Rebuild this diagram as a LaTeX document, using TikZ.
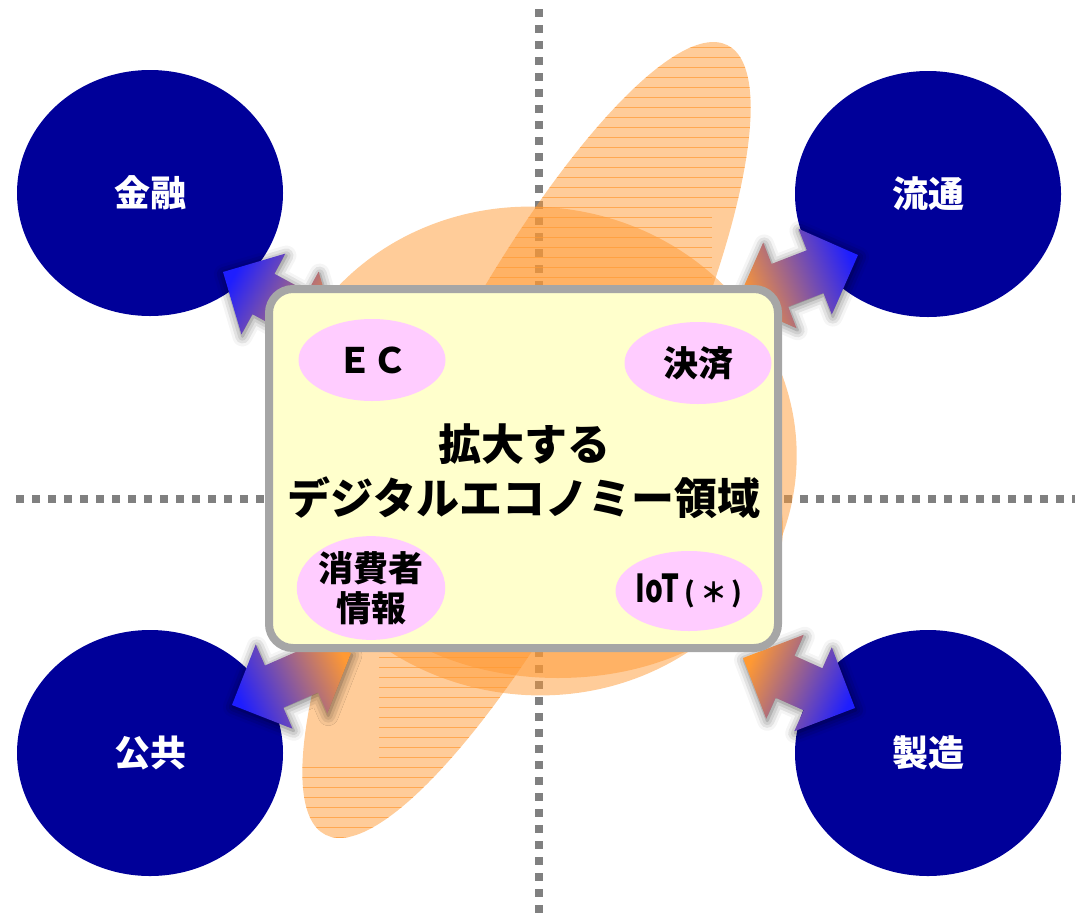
\documentclass[tikz,border=0pt]{standalone}
\usepackage{fontspec}
\usepackage{graphicx}
\setmainfont{Noto Sans CJK JP}
\usetikzlibrary{calc,shapes.geometric,shadows.blur}

\definecolor{navyc}{HTML}{000099}
\definecolor{orng}{HTML}{FF9933}
\definecolor{boxfill}{HTML}{FFFFCC}
\definecolor{boxline}{HTML}{A6A6A6}
\definecolor{pinkc}{HTML}{FFCCFF}
\definecolor{arrblue}{HTML}{1E1EFF}
\definecolor{arrmid}{HTML}{E27C92}
\definecolor{dotgray}{HTML}{808080}

\newcommand{\dblarr}[3]{%
\path[dblarrow, shading angle=#3]
 (#1)
 -- ($(#1)!46pt!(#2)!46pt!90:(#2)$)
 -- ($(#1)!46pt!(#2)!23pt!90:(#2)$)
 -- ($(#2)!46pt!(#1)!23pt!-90:(#1)$)
 -- ($(#2)!46pt!(#1)!46pt!-90:(#1)$)
 -- (#2)
 -- ($(#2)!46pt!(#1)!46pt!90:(#1)$)
 -- ($(#2)!46pt!(#1)!23pt!90:(#1)$)
 -- ($(#1)!46pt!(#2)!23pt!-90:(#2)$)
 -- ($(#1)!46pt!(#2)!46pt!-90:(#2)$)
 -- cycle;}

\begin{document}
\begin{tikzpicture}[x=1pt,y=-1pt,
  dotline/.style={dotgray, line width=8pt, dash pattern=on 8pt off 8pt},
  blob/.style={fill=orng, fill opacity=0.5},
  hatch/.style={orng, line width=1pt, opacity=0.7},
  circ/.style={ellipse, fill=navyc, minimum width=266pt, minimum height=246pt,
    inner sep=0pt, text=white, font=\fontsize{36}{36}\selectfont\bfseries},
  mainbox/.style={rectangle, draw=boxline, line width=8pt, fill=boxfill,
    rounded corners=24pt, minimum width=509pt, minimum height=359pt, inner sep=0pt},
  pill/.style={ellipse, fill=pinkc, minimum width=147pt, minimum height=82pt,
    inner sep=0pt, align=center, font=\fontsize{35}{40}\selectfont\bfseries},
  pilltext/.style={inner sep=0pt, font=\fontsize{35}{40}\selectfont\bfseries},
  titletext/.style={align=center, inner sep=0pt,
    font=\fontsize{43}{54}\selectfont\bfseries},
  dblarrow/.style={left color=orng, middle color=arrmid, right color=arrblue,
    blur shadow={shadow xshift=1pt, shadow yshift=-2pt, shadow blur radius=10pt,
      shadow opacity=60}}
]
\useasboundingbox (0,0) rectangle (1075,913);

% quadrant dotted lines
\coordinate (vtop) at (539,9);
\coordinate (vbot) at (539,913);
\coordinate (hl) at (16,499);
\coordinate (hr) at (1075,499);
\draw[dotline] (vtop) -- (vbot);
\draw[dotline] (hl) -- (hr);

% orange background shapes
\fill[blob, rotate around={63:(526.5,440)}] (526.5,440) ellipse [x radius=443pt, y radius=111pt];
\fill[blob, rotate around={-8:(535,451)}] (535,451) ellipse [x radius=262pt, y radius=244pt];
\fill[blob] (558,528) ellipse [x radius=225pt, y radius=150pt];
\begin{scope}
  \clip[rotate around={63:(526.5,440)}] (526.5,440) ellipse [x radius=443pt, y radius=111pt];
  \foreach \yy in {47,57,...,207} \draw[hatch] (480,\yy) -- (770,\yy);
  \foreach \yy in {217,227,...,287} \draw[hatch] (450,\yy) -- (712,\yy);
  \foreach \yy in {657,667,...,757} \draw[hatch] (379,\yy) -- (600,\yy);
  \foreach \yy in {767,777,...,837} \draw[hatch] (290,\yy) -- (600,\yy);
\end{scope}

% sector circles
\node[circ] (kinyu) at (150,193) {金融};
\node[circ] (ryutsu) at (928,194) {流通};
\node[circ] (kokyo) at (150,753) {公共};
\node[circ] (seizo) at (928,753) {製造};

% double arrows
\coordinate (tlA) at (337,334); \coordinate (tlB) at (223,272);
\coordinate (trA) at (737,302); \coordinate (trB) at (858,255);
\coordinate (blA) at (351,653); \coordinate (blB) at (232,705);
\coordinate (brA) at (743,658); \coordinate (brB) at (855,708);
\dblarr{tlA}{tlB}{241.5}
\dblarr{trA}{trB}{111.2}
\dblarr{blA}{blB}{293.6}
\dblarr{brA}{brB}{66}

% central box
\node[mainbox] (core) at (523.5,468.5) {};
\node[pill] (ec) at (372,360) {ＥＣ};
\node[pill] (kessai) at (698,363) {決済};
\node[pill, minimum height=88pt] (shohi) at (371,588) {消費者\\情報};
\node[pill, minimum height=80pt] (iot) at (689,591) {};
\node[pilltext] (iottext) at (iot) {\scalebox{0.8}[1.1]{IoT}\,{\fontsize{27}{27}\selectfont(\,＊\,)}};
\node[titletext] (title) at (524,471) {拡大する\\デジタルエコノミー領域};
\end{tikzpicture}
\end{document}
